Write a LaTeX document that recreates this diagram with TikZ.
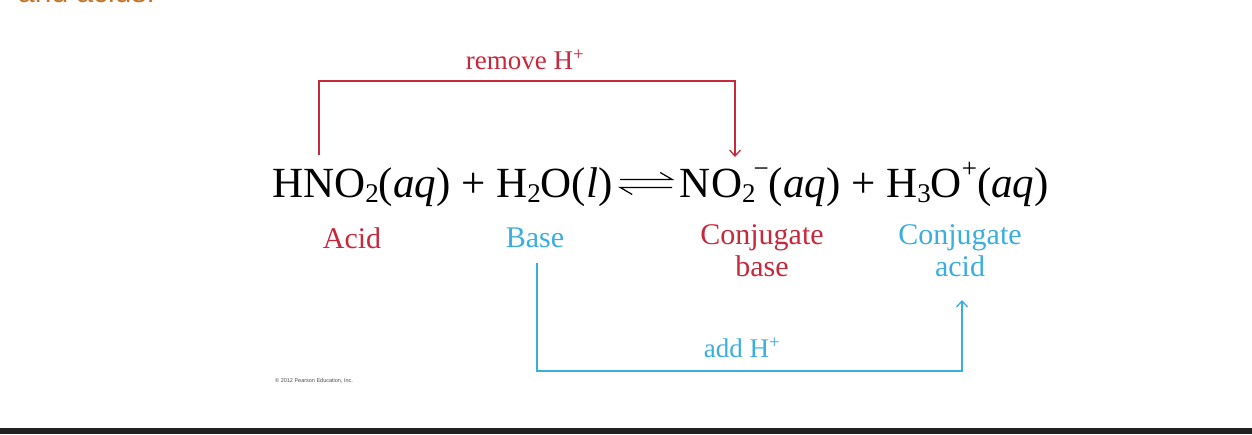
\documentclass[tikz,border=0pt]{standalone}
\usepackage{fontspec}
\usepackage{mathtools}
\usetikzlibrary{arrows.meta}
\setmainfont{Liberation Serif}
\newfontfamily\sansf{Liberation Sans}
\definecolor{cred}{HTML}{C8283C}
\definecolor{cblue}{HTML}{3BAEE0}
\definecolor{corange}{HTML}{C07830}
\newcommand\chsb[1]{\raisebox{-0.28ex}{\fontsize{27}{27}\selectfont #1}}
\newcommand\chsp[1]{\raisebox{1.0ex}{\fontsize{27}{27}\selectfont #1}}
\newcommand\eqarr{\tikz[baseline=-0.28ex, x=1pt, y=1pt, line width=1.2pt]{
  \draw (0,12) -- (52,12) -- (40,19);
  \draw (52,4) -- (0,4) -- (12,-3);}}
\begin{document}
\begin{tikzpicture}[x=1pt,y=-1pt,
  lab/.style={font=\fontsize{30}{32}\selectfont, align=center, inner sep=0pt},
  redl/.style={draw=cred, line width=1.3pt},
  bluel/.style={draw=cblue, line width=1.3pt},
  tip/.style={-{Straight Barb[length=6pt,width=11pt,line width=1.3pt]}}]
\useasboundingbox (0,0) rectangle (1252,434);
\fill[white] (0,0) rectangle (1252,434);
\fill[black!87] (0,428) rectangle (1252,434);
\begin{scope}
\clip (0,0) rectangle (1252,6);
\node[anchor=base west, text=corange, font=\sansf\fontsize{30}{30}\selectfont, inner sep=0pt] (top) at (18,2) {and acids:};
\end{scope}
\node[anchor=base west, inner sep=0pt, font=\fontsize{43}{43}\selectfont] (eq) at (272,197)
 {HNO\chsb{2}(\textit{aq}) + H\chsb{2}O(\textit{l})\,\eqarr\,NO\chsb{2}\hspace{-2pt}\chsp{−}(\textit{aq}) + H\chsb{3}O\chsp{+}(\textit{aq})};
\node[lab, text=cred] (acid) at (352,238) {Acid};
\node[lab, text=cblue] (base) at (535,238) {Base};
\node[lab, text=cred, anchor=north] (cb) at (762,224) {Conjugate\\base};
\node[lab, text=cblue, anchor=north] (ca) at (960,224) {Conjugate\\acid};
\node[lab, text=cred, font=\fontsize{27}{27}\selectfont] (rem) at (525,60) {remove H\textsuperscript{+}};
\node[lab, text=cblue, font=\fontsize{27}{27}\selectfont] (add) at (742,348) {add H\textsuperscript{+}};
\node[anchor=west, inner sep=0pt, text=black!70, font=\sansf\fontsize{5.5}{6}\selectfont] (copy) at (275,381) {© 2012 Pearson Education, Inc.};
\coordinate (r1) at (319,155);
\coordinate (r2) at (735,157);
\coordinate (b1) at (537,263);
\coordinate (b2) at (962,300);
\draw[redl, tip] (r1) |- (527,81) -| (r2);
\draw[bluel, tip] (b1) |- (750,371) -| (b2);
\end{tikzpicture}
\end{document}
